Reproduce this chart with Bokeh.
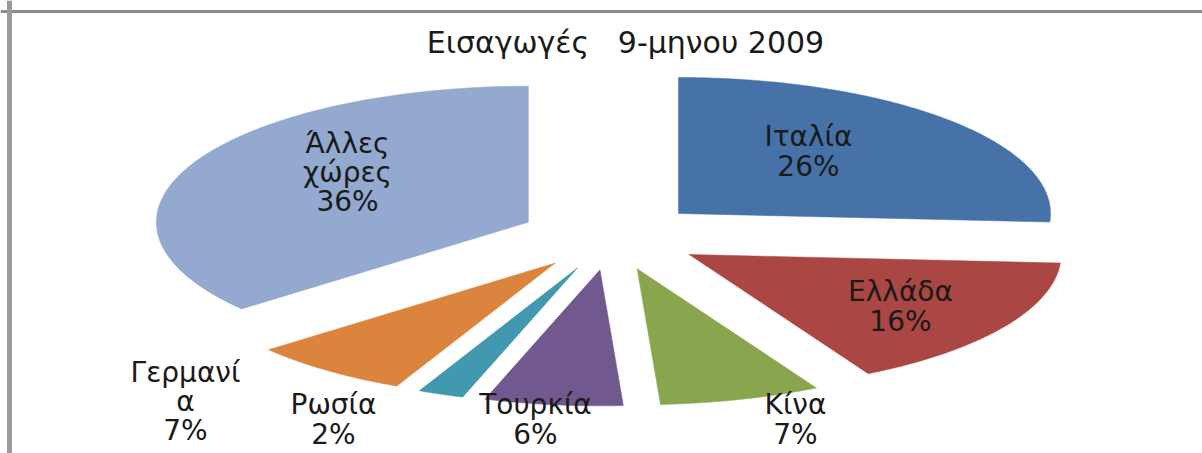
import numpy as np
from bokeh.plotting import figure
from bokeh.models import Range1d, Span, ColumnDataSource
from bokeh.core.properties import value
from bokeh.embed import file_html
from bokeh.resources import INLINE

# ---- data ----
countries = ["Ιταλία", "Ελλάδα", "Κίνα", "Τουρκία", "Ρωσία", "Γερμανία", "Άλλες χώρες"]
label_names = ["Ιταλία", "Ελλάδα", "Κίνα", "Τουρκία", "Ρωσία", "Γερμανί\nα", "Άλλες\nχώρες"]
shares = [26, 16, 7, 6, 2, 7, 36]
title_text = "Εισαγωγές\u00a0\u00a0 9-μηνου 2009"

# ---- style / layout ----
colors = ["#4672A8", "#AA4643", "#89A54E", "#71588F", "#4198AF", "#DB843D", "#93A9CF"]
W, H = 1202, 453
CX, CY = 611, 236          # pie centre in canvas px
RX, RY = 372, 136          # ellipse radii in px
EXPLODE = 0.247            # explosion as fraction of radius

def px2x(px):
    return (px - CX) / RX

def px2y(py):
    return (CY - py) / RY

p = figure(width=W, height=H, output_backend="svg", toolbar_location=None,
           x_axis_location=None, y_axis_location=None,
           x_range=Range1d(px2x(0), px2x(W)), y_range=Range1d(px2y(H), px2y(0)),
           min_border=0, background_fill_color="white", border_fill_color="white")
p.outline_line_color = None
p.grid.visible = False

# wedges as elliptical patches (unit circle in data space, stretched by scales)
total = float(sum(shares))
fr = np.cumsum([0] + shares) / total * 2 * np.pi
xs, ys = [], []
for i in range(len(shares)):
    a0, a1 = fr[i], fr[i + 1]
    mid = 0.5 * (a0 + a1)
    ox, oy = EXPLODE * np.sin(mid), EXPLODE * np.cos(mid)
    t = np.linspace(a0, a1, 120)
    xs.append(list(np.concatenate([[ox], ox + np.sin(t), [ox]])))
    ys.append(list(np.concatenate([[oy], oy + np.cos(t), [oy]])))

src = ColumnDataSource(dict(xs=xs, ys=ys, color=colors, name=countries))
p.patches("xs", "ys", source=src, fill_color="color", line_color="color", line_width=0.5)

# labels (layout positions in canvas px)
label_px = [(808, 151), (900, 306), (795, 419), (535, 419), (333, 419), (185, 401), (347, 172)]
labels = [f"{n}\n{s}%" for n, s in zip(label_names, shares)]
lsrc = ColumnDataSource(dict(x=[px2x(a) for a, b in label_px], y=[px2y(b) for a, b in label_px], t=labels))
p.text("x", "y", text="t", source=lsrc, text_font=value("DejaVu Sans"), text_font_size="28px",
       text_color="#1a1a1a", text_align="center", text_baseline="middle", text_line_height=0.88)

# title
p.text(x=[px2x(625)], y=[px2y(42)], text=[title_text], text_font=value("DejaVu Sans"),
       text_font_size="30px", text_color="#1a1a1a", text_align="center", text_baseline="middle")

# chart-area border (top & left visible)
p.add_layout(Span(location=px2y(11), dimension="width", line_color="#8c8c8c", line_width=3))
p.add_layout(Span(location=px2x(9), dimension="height", line_color="#9a9a9a", line_width=5))

open("out.html", "w").write(file_html(p, INLINE))
